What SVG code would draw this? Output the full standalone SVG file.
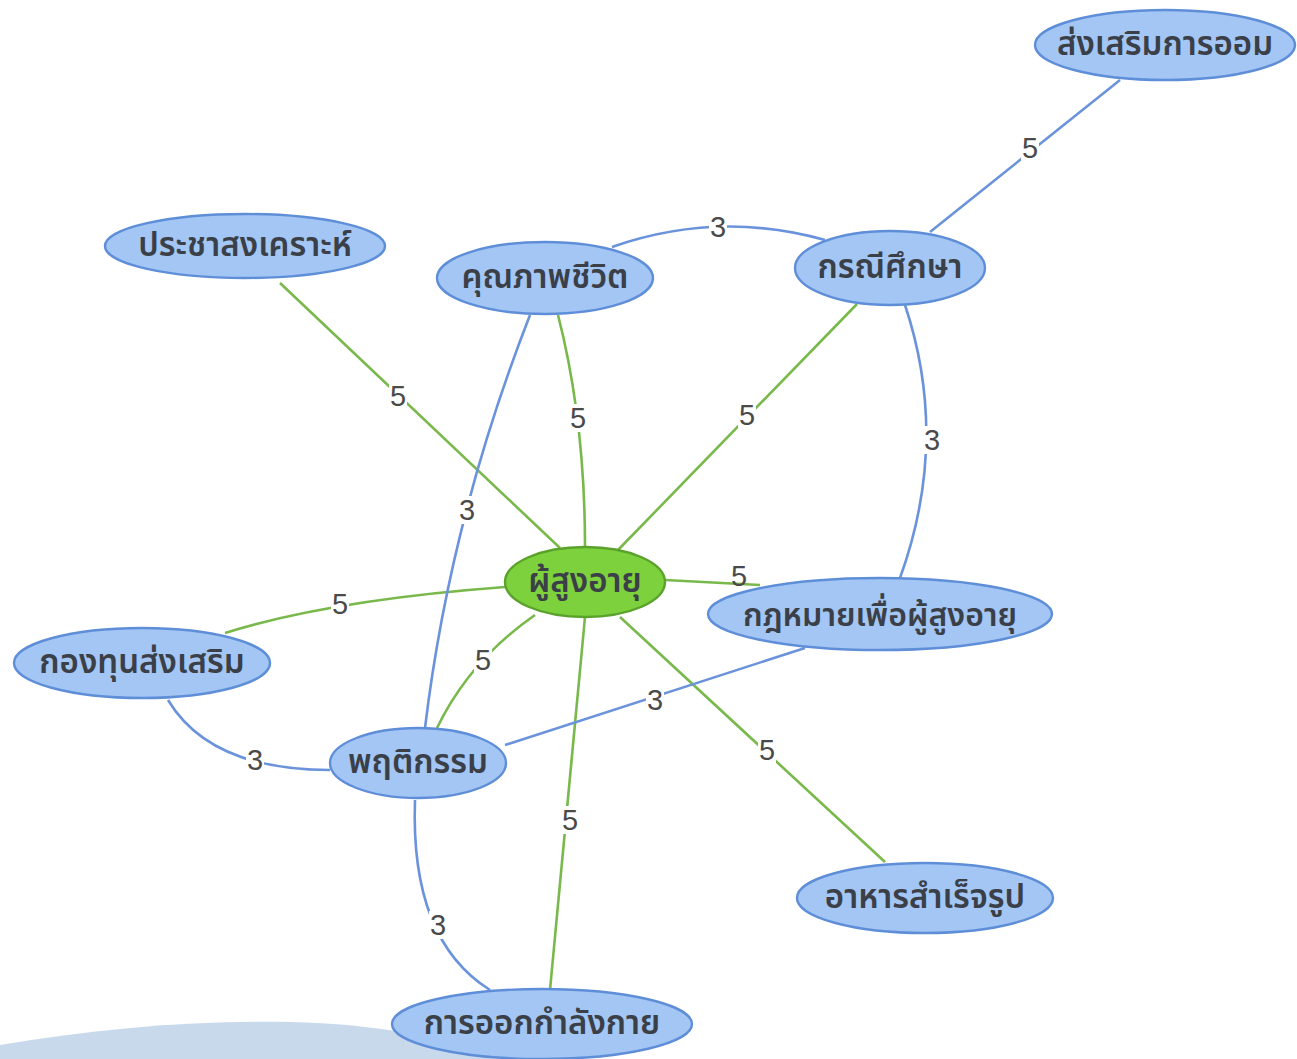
<svg xmlns="http://www.w3.org/2000/svg" width="1297" height="1059" viewBox="0 0 1297 1059">
<style>
.n ellipse{fill:#a3c6f4;stroke:#5f8ed8;stroke-width:2.4}
.g ellipse{fill:#7dd13c;stroke:#5aa22c;stroke-width:2.4}
.n text,.g text{font-family:"Noto Sans Thai","Noto Sans","DejaVu Sans",sans-serif;font-size:33px;fill:#3a3f48;text-anchor:middle;dominant-baseline:central;font-weight:600}
.e path{fill:none;stroke-width:2.6}
.b{stroke:#6b93db}
.gr{stroke:#79b84a}
.l text{font-family:"Liberation Sans",Arial,sans-serif;font-size:29px;fill:#4a4a4a;text-anchor:middle;dominant-baseline:central}
.l rect{fill:#fff}
</style>
<rect width="1297" height="1059" fill="#fff"/>
<path d="M0,1045 C100,1028 200,1020 290,1022 C380,1024 460,1040 520,1059 L0,1059 Z" fill="#c9d9ec"/>
<g id="edges" class="e">
<path class="gr" d="M280,283 L560,548"/>
<path class="gr" d="M558,315 Q585,420 585,547"/>
<path class="gr" d="M857,304 L618,550"/>
<path class="gr" d="M665,580 L760,585"/>
<path class="gr" d="M225,633 Q330,600 505,587"/>
<path class="gr" d="M535,615 Q470,660 437,728"/>
<path class="gr" d="M585,617 L550,990"/>
<path class="gr" d="M620,617 L885,862"/>
<path class="b" d="M1120,80 L930,232"/>
<path class="b" d="M612,247 Q718,210 825,240"/>
<path class="b" d="M905,305 Q950,440 900,578"/>
<path class="b" d="M530,315 Q450,520 425,728"/>
<path class="b" d="M168,700 Q210,770 330,770"/>
<path class="b" d="M805,648 L505,745"/>
<path class="b" d="M415,800 Q410,940 490,990"/>
</g>
<g id="labels" class="l">
<rect x="389" y="382" width="18" height="28"/><text x="398" y="396">5</text>
<rect x="569" y="404" width="18" height="28"/><text x="578" y="418">5</text>
<rect x="738" y="401" width="18" height="28"/><text x="747" y="415">5</text>
<rect x="331" y="590" width="18" height="28"/><text x="340" y="604">5</text>
<rect x="474" y="646" width="18" height="28"/><text x="483" y="660">5</text>
<rect x="561" y="806" width="18" height="28"/><text x="570" y="820">5</text>
<rect x="758" y="736" width="18" height="28"/><text x="767" y="750">5</text>
<text x="739" y="576">5</text>
<rect x="1021" y="134" width="18" height="28"/><text x="1030" y="148">5</text>
<rect x="709" y="213" width="18" height="28"/><text x="718" y="227">3</text>
<rect x="923" y="426" width="18" height="28"/><text x="932" y="440">3</text>
<rect x="458" y="496" width="18" height="28"/><text x="467" y="510">3</text>
<rect x="246" y="746" width="18" height="28"/><text x="255" y="760">3</text>
<rect x="646" y="686" width="18" height="28"/><text x="655" y="700">3</text>
<rect x="429" y="911" width="18" height="28"/><text x="438" y="925">3</text>
</g>
<g id="n1" class="n"><ellipse cx="1165" cy="45" rx="130" ry="35"/><text x="1165" y="45">ส่งเสริมการออม</text></g>
<g id="n2" class="n"><ellipse cx="245" cy="246" rx="140" ry="32"/><text x="245" y="246">ประชาสงเคราะห์</text></g>
<g id="n3" class="n"><ellipse cx="545" cy="278" rx="108" ry="36"/><text x="545" y="278">คุณภาพชีวิต</text></g>
<g id="n4" class="n"><ellipse cx="890" cy="268" rx="95" ry="37"/><text x="890" y="268">กรณีศึกษา</text></g>
<g id="n5" class="n"><ellipse cx="880" cy="614" rx="172" ry="36"/><text x="880" y="616" style="font-size:32px">กฎหมายเพื่อผู้สูงอายุ</text></g>
<g id="n6" class="g"><ellipse cx="585" cy="582" rx="80" ry="35"/><text x="585" y="582">ผู้สูงอายุ</text></g>
<g id="n7" class="n"><ellipse cx="142" cy="663" rx="128" ry="35"/><text x="142" y="663">กองทุนส่งเสริม</text></g>
<g id="n8" class="n"><ellipse cx="418" cy="763" rx="88" ry="35"/><text x="418" y="763">พฤติกรรม</text></g>
<g id="n9" class="n"><ellipse cx="925" cy="898" rx="128" ry="35"/><text x="925" y="898">อาหารสำเร็จรูป</text></g>
<g id="n10" class="n"><ellipse cx="542" cy="1024" rx="150" ry="35"/><text x="542" y="1024">การออกกำลังกาย</text></g>
</svg>
